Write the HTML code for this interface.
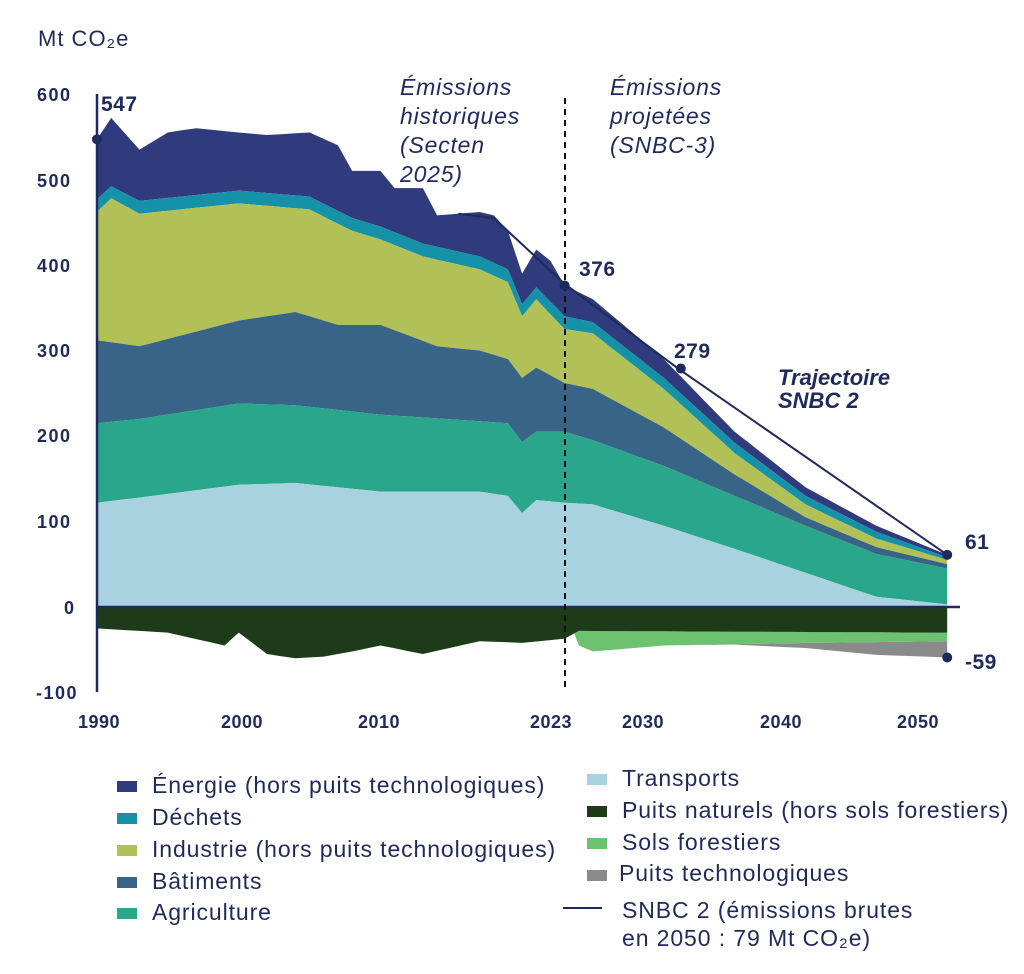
<!DOCTYPE html>
<html><head><meta charset="utf-8"><style>
body{margin:0;background:#fff;width:1024px;height:969px;overflow:hidden;font-family:"Liberation Sans",sans-serif;color:#1f2a5c}
svg text{font-family:"Liberation Sans",sans-serif;fill:#1f2a5c}
</style></head><body>
<svg id="s" width="1024" height="969" viewBox="0 0 1024 969"></svg>
<script>
const X=y=>97+(y-1990)*14.17, Y=v=>607-v*0.855;
function interp(pts){const m={};for(let i=0;i<pts.length-1;i++){const [a,va]=pts[i],[b,vb]=pts[i+1];for(let y=a;y<b;y++)m[y]=va+(vb-va)*(y-a)/(b-a);}const l=pts[pts.length-1];m[l[0]]=l[1];return m;}
const yrs=[];for(let y=1990;y<=2050;y++)yrs.push(y);
const L={
tr:interp([[1990,122],[1993,128],[2000,143],[2004,145],[2010,135],[2017,135],[2019,130],[2020,110],[2021,125],[2023,122],[2025,120],[2030,95],[2035,68],[2040,40],[2045,12],[2050,3]]),
ag:interp([[1990,215],[1993,220],[2000,238],[2004,236],[2010,225],[2019,215],[2020,193],[2021,205],[2023,205],[2025,195],[2030,165],[2035,130],[2040,95],[2045,62],[2050,45]]),
ba:interp([[1990,312],[1993,305],[2000,335],[2004,345],[2007,330],[2010,330],[2014,305],[2017,300],[2019,290],[2020,268],[2021,280],[2023,262],[2025,255],[2030,210],[2035,155],[2040,105],[2045,70],[2050,50]]),
in:interp([[1990,462],[1991,478],[1993,460],[2000,472],[2005,465],[2008,440],[2010,430],[2013,410],[2017,395],[2019,380],[2020,340],[2021,360],[2023,325],[2025,320],[2030,255],[2035,180],[2040,120],[2045,80],[2050,55]]),
de:interp([[1990,477],[1991,492],[1993,475],[2000,487],[2005,480],[2008,455],[2010,445],[2013,425],[2017,410],[2019,395],[2020,354],[2021,374],[2023,340],[2025,333],[2030,268],[2035,192],[2040,130],[2045,88],[2050,58]]),
en:interp([[1990,547],[1991,572],[1993,535],[1995,555],[1997,560],[2000,555],[2002,552],[2005,555],[2007,540],[2008,510],[2010,510],[2011,490],[2013,490],[2014,458],[2017,462],[2018,458],[2019,440],[2020,390],[2021,418],[2022,405],[2023,376],[2025,360],[2030,290],[2035,205],[2040,140],[2045,95],[2050,61]]),
pn:interp([[1990,-25],[1995,-30],[1999,-45],[2000,-30],[2002,-55],[2004,-60],[2006,-58],[2008,-52],[2010,-45],[2013,-55],[2017,-40],[2020,-42],[2023,-37],[2024,-28],[2050,-30]]),
sf:interp([[1990,0],[2023,0],[2024,-45],[2025,-52],[2030,-45],[2040,-42],[2050,-40]]),
pt:interp([[1990,0],[2023,0],[2024,-45],[2025,-52],[2030,-45],[2035,-44],[2040,-48],[2045,-56],[2050,-59]])};
function band(top,bot,c){let d='M';yrs.forEach((y,i)=>{d+=(i?'L':'')+X(y).toFixed(1)+','+Y(top(y)).toFixed(1)});for(let i=yrs.length-1;i>=0;i--)d+='L'+X(yrs[i]).toFixed(1)+','+Y(bot(yrs[i])).toFixed(1);return `<path d="${d}Z" fill="${c}"/>`;}
let h='';
h+=band(y=>L.en[y],y=>L.de[y],'#2f3b7c');
h+=band(y=>L.de[y],y=>L.in[y],'#1692a8');
h+=band(y=>L.in[y],y=>L.ba[y],'#b2c157');
h+=band(y=>L.ba[y],y=>L.ag[y],'#376487');
h+=band(y=>L.ag[y],y=>L.tr[y],'#2aa78a');
h+=band(y=>L.tr[y],y=>0,'#a8d2df');
h+=band(y=>y>=2024?L.sf[y]:0,y=>L.pt[y],'#8a8a8a');
h+=band(y=>y>=2024?L.pn[y]:0,y=>y>=2024?L.sf[y]:0,'#6cc26f');
h+=band(y=>0,y=>L.pn[y],'#1d3a19');
h+=`<line x1="97" y1="94" x2="97" y2="692" stroke="#1f2a5c" stroke-width="2.5"/><line x1="97" y1="607" x2="960" y2="607" stroke="#1f2a5c" stroke-width="2.5"/>`;
h+=`<line x1="565" y1="98" x2="565" y2="692" stroke="#111" stroke-width="2" stroke-dasharray="6,5"/>`;
const sn=[[2015.5,460],[2018,455],[2023,378],[2031,279],[2050,61]];
h+=`<polyline fill="none" stroke="#1f2a5c" stroke-width="2" points="${sn.map(p=>X(p[0])+','+Y(p[1])).join(' ')}"/>`;
[[1990,547],[2023,376],[2031.2,279],[2050,61],[2050,-59]].forEach(p=>h+=`<circle cx="${X(p[0])}" cy="${Y(p[1])}" r="5" fill="#1f2a5c"/>`);
[[547,101,111],[376,579,276],[279,674,358],[61,965,549],[-59,965,669]].forEach(p=>h+=`<text x="${p[1]}" y="${p[2]}" font-size="21" font-weight="bold" letter-spacing="0.5">${p[0]}</text>`);
[[600,101],[500,187],[400,272],[300,357],[200,442],[100,528],[0,614],[-100,699]].forEach(p=>h+=`<text x="${p[0]<0?36:p[0]?37:64}" y="${p[1]}" font-size="18" font-weight="bold" letter-spacing="1.5">${p[0]}</text>`);
[[1990,78],[2000,221],[2010,358],[2023,530],[2030,622],[2040,760],[2050,897]].forEach(p=>h+=`<text x="${p[1]}" y="728" font-size="18" font-weight="bold" letter-spacing="0.5">${p[0]}</text>`);
h+=`<text x="38" y="46" font-size="22" letter-spacing="1">Mt CO₂e</text>`;
const it=(x,y,t)=>h+=`<text x="${x}" y="${y}" font-size="23" font-style="italic" letter-spacing="0.8">${t}</text>`;
it(400,95,'Émissions');it(400,124,'historiques');it(400,153,'(Secten');it(400,182,'2025)');
it(610,95,'Émissions');it(610,124,'projetées');it(610,153,'(SNBC-3)');
h+=`<text x="778" y="385" font-size="22" font-style="italic" font-weight="bold">Trajectoire</text><text x="778" y="408" font-size="22" font-style="italic" font-weight="bold">SNBC 2</text>`;
const TS='font-size="23" letter-spacing="0.9"';
const lg=(x,y,c,t)=>{h+=`<rect x="${x}" y="${y-12}" width="20" height="11" fill="${c}"/><text x="${x+35}" y="${y}" ${TS}>${t}</text>`};
lg(117,793,'#2f3b7c','Énergie (hors puits technologiques)');
lg(117,825,'#1692a8','Déchets');
lg(117,857,'#b2c157','Industrie (hors puits technologiques)');
lg(117,889,'#376487','Bâtiments');
lg(117,920,'#2aa78a','Agriculture');
lg(587,786,'#a8d2df','Transports');
lg(587,818,'#1d3a19','Puits naturels (hors sols forestiers)');
lg(587,850,'#6cc26f','Sols forestiers');
h+=`<rect x="587" y="870" width="20" height="11" fill="#8a8a8a"/><text x="619" y="881" ${TS}>Puits technologiques</text>`;
h+=`<line x1="563" y1="908" x2="602" y2="908" stroke="#1f2a5c" stroke-width="2"/><text x="622" y="918" ${TS}>SNBC 2 (émissions brutes</text><text x="622" y="946" ${TS}>en 2050 : 79 Mt CO₂e)</text>`;
document.getElementById('s').innerHTML=h;
</script>
</body></html>
